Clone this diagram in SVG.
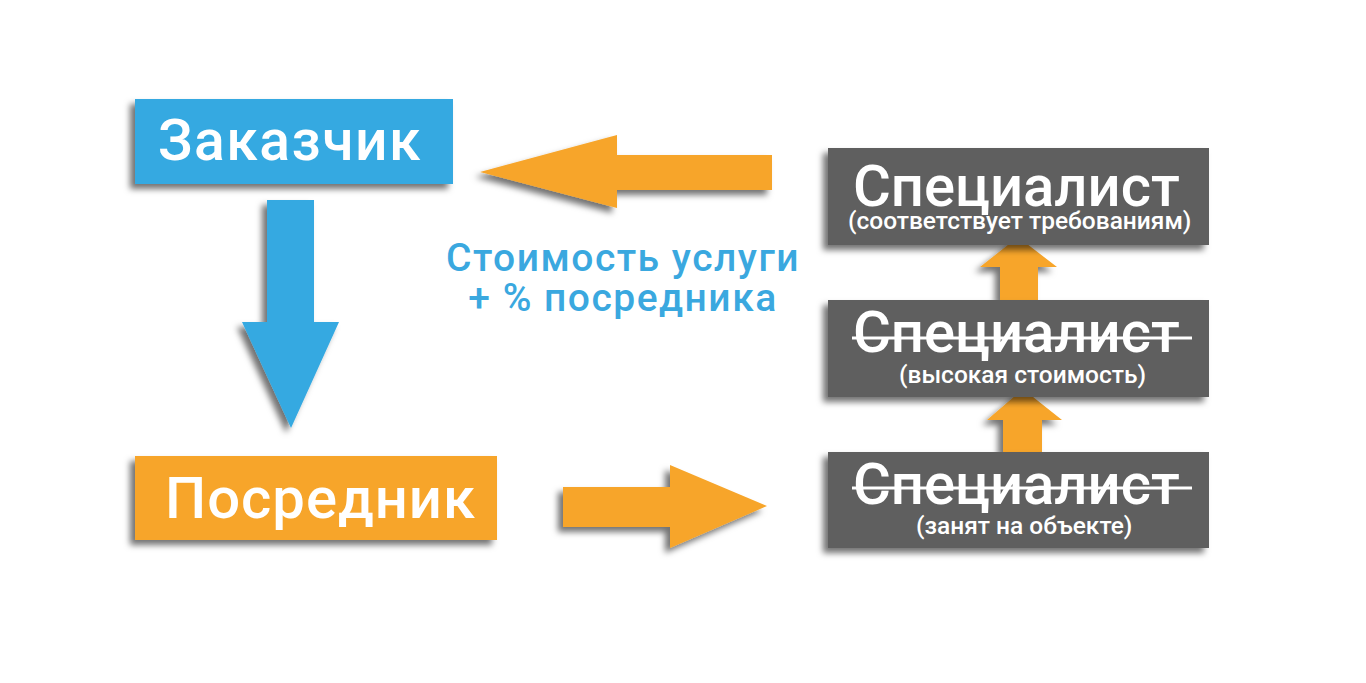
<svg xmlns="http://www.w3.org/2000/svg" width="1366" height="683" viewBox="0 0 1366 683">
<defs>
<filter id="sh" x="-20%" y="-20%" width="140%" height="160%">
<feDropShadow dx="-5" dy="5" stdDeviation="3" flood-color="#000" flood-opacity="0.55"/>
</filter>
<style>
.t{font-family:Roboto,"Liberation Sans",sans-serif;fill:#fff;font-weight:500}
.big{font-size:58px}
.sub{font-size:24.5px}
.blue{fill:#36a9e1}
.orange{fill:#f7a52a}
.gray{fill:#5f5f5f}
.strike{stroke:#fff;stroke-width:3}
.lbl{font-family:Roboto,"Liberation Sans",sans-serif;fill:#3aa8df;font-size:39px;font-weight:500;letter-spacing:1.5px;text-anchor:middle}
</style>
</defs>
<rect width="1366" height="683" fill="#fff"/>
<g id="connectors" filter="url(#sh)">
<polygon class="blue" points="267,200 314,200 314,322 339,322 291,428 242,322 267,322"/>
<polygon class="orange" points="772,155 772,190 617,190 617,208 480,172 617,135 617,155"/>
<polygon class="orange" points="563,487 670,487 670,465 767,506 670,548 670,527 563,527"/>
<polygon class="orange" points="1000,300 1000,267 980,267 1018,237 1057,267 1038,267 1038,300"/>
<polygon class="orange" points="1003,452 1003,420 987,420 1023,389 1062,420 1042,420 1042,452"/>
</g>
<g id="zakazchik">
<rect class="blue" x="135" y="99" width="318" height="85" filter="url(#sh)"/>
<text class="t" x="158" y="160" font-size="57" letter-spacing="1.5">Заказчик</text>
</g>
<g id="posrednik">
<rect class="orange" x="135" y="456" width="362" height="84" filter="url(#sh)"/>
<text class="t" x="165" y="518" font-size="58" letter-spacing="1">Посредник</text>
</g>
<g id="label">
<text class="lbl" x="623" y="271">Стоимость услуги</text>
<text class="lbl" x="623" y="311">+ % посредника</text>
</g>
<g id="spec1">
<rect class="gray" x="828" y="148" width="381" height="97" filter="url(#sh)"/>
<text class="t big" x="853" y="206">Специалист</text>
<text class="t sub" x="848" y="229">(соответствует требованиям)</text>
</g>
<g id="spec2">
<rect class="gray" x="828" y="300" width="381" height="97" filter="url(#sh)"/>
<text class="t big" x="853" y="352">Специалист</text>
<line class="strike" x1="852" y1="338" x2="1192" y2="338"/>
<text class="t sub" x="899" y="383">(высокая стоимость)</text>
</g>
<g id="spec3">
<rect class="gray" x="828" y="452" width="381" height="96" filter="url(#sh)"/>
<text class="t big" x="853" y="504">Специалист</text>
<line class="strike" x1="852" y1="488" x2="1192" y2="488"/>
<text class="t sub" x="916" y="534">(занят на объекте)</text>
</g>
</svg>
